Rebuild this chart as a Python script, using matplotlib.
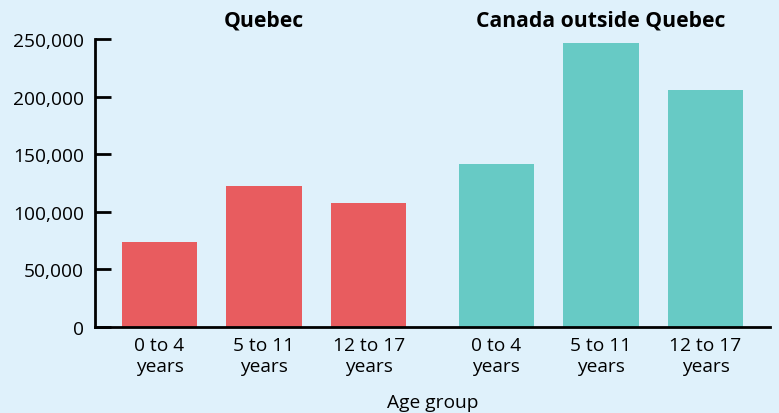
import matplotlib
matplotlib.use("Agg")
import matplotlib.pyplot as plt
from matplotlib.ticker import FuncFormatter

plt.rcParams['font.family'] = ['Open Sans', 'DejaVu Sans']

groups = ["Quebec", "Canada outside Quebec"]
age_groups = ["0 to 4\nyears", "5 to 11\nyears", "12 to 17\nyears"]
quebec = [73700, 122400, 107600]
canada_outside = [141500, 246700, 205800]
y_ticks = [0, 50000, 100000, 150000, 200000, 250000]

bg = "#dff1fb"
red = "#e85c5f"
teal = "#67cac5"

W, H = 779, 414
fig = plt.figure(figsize=(W / 100, H / 100), dpi=100, facecolor=bg)
ax = fig.add_axes([95 / W, (H - 327.7) / H, (770 - 95) / W, (327.7 - 40) / H])
ax.set_facecolor(bg)

gap = 1.22
xq = [0, 1, 2]
xc = [2 + gap, 3 + gap, 4 + gap]
width = 0.72
ax.bar(xq, quebec, width=width, color=red, zorder=2)
ax.bar(xc, canada_outside, width=width, color=teal, zorder=2)

ax.set_xlim(-0.617, xc[-1] + 0.617)
ax.set_ylim(0, 250000)
ax.set_yticks(y_ticks)
ax.yaxis.set_major_formatter(FuncFormatter(lambda v, p: f"{int(v):,}"))
ax.set_xticks(xq + xc)
ax.set_xticklabels(age_groups * 2, fontsize=13.8, linespacing=1.15)

for s in ["top", "right"]:
    ax.spines[s].set_visible(False)
for s in ["left", "bottom"]:
    ax.spines[s].set_linewidth(2)
    ax.spines[s].set_color("black")
ax.spines["bottom"].set_zorder(3)

ax.tick_params(axis="y", direction="in", length=11.5, width=2, pad=8, labelsize=13.8)
ax.tick_params(axis="x", length=0, pad=7)

ax.text(xq[1], 250000 + 18.5 / 287.7 * 250000, groups[0], ha="center", va="center",
        fontsize=15.2, fontweight="bold", clip_on=False)
ax.text(xc[1], 250000 + 18.5 / 287.7 * 250000, groups[1], ha="center", va="center",
        fontsize=15.2, fontweight="bold", clip_on=False)

ax.set_xlabel("Age group", fontsize=13.8)
ax.xaxis.set_label_coords(0.5, -(403 - 327.7) / 287.7)
ax.xaxis.label.set_va("center")

fig.savefig("out.png", dpi=100, facecolor=bg)
